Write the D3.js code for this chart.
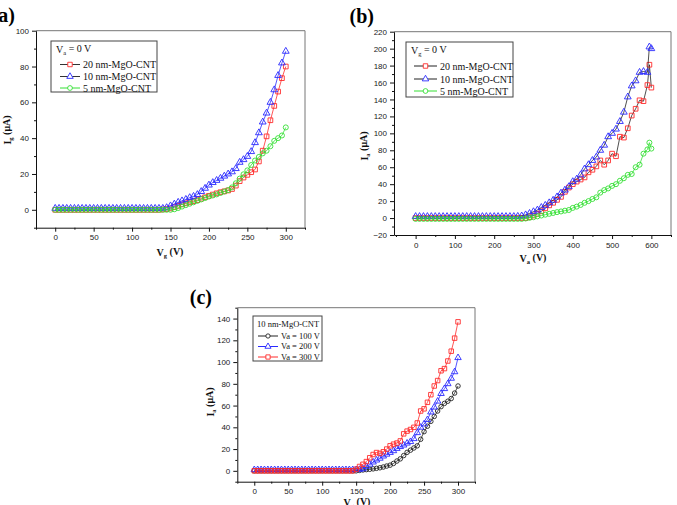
<!DOCTYPE html>
<html><head><meta charset="utf-8">
<script src="https://cdn.jsdelivr.net/npm/d3@7"></script>
<style>body{margin:0;background:#fff}svg{display:block}</style>
</head><body>
<svg id="chart" width="677" height="505"></svg>
<script>
// ---------- DATA ----------
// Panel (a): Ig vs Vg at Va = 0 V
const vgA = [0,5,10,15,20,25,30,35,40,45,50,55,60,65,70,75,80,85,90,95,100,105,110,115,120,125,130,135,140,145,150,155,160,165,170,175,180,185,190,195,200,205,210,215,220,225,230,235,240,245,250,255,260,265,270,275,280,285,290,295,300];
const ig20A = [0,0,0,0,0,0,0,0,0,0,0,0,0,0,0,0,0,0,0,0,0,0,0,0,0,0,0,0,0.2,0.4,
  0.8,1.5,2.2,3.0,3.6,4.2,4.8,5.4,6.2,7.0,
  7.8,8.5,9.2,9.8,10.3,10.8,11.6,13.5,16.0,18.0,
  19.5,21.0,22.5,27.0,33.0,41.0,50.0,58.0,66.0,73.5,80.0];
const ig10A = [0.8,0.8,0.8,0.8,0.8,0.8,0.8,0.8,0.8,0.8,0.8,0.8,0.8,0.8,0.8,0.8,0.8,0.8,0.8,0.8,0.8,0.8,0.8,0.8,0.8,0.8,0.8,0.8,0.8,1.2,
  2.2,3.2,4.2,5.0,5.8,6.8,7.5,8.5,10.2,12.0,
  13.8,15.2,16.4,17.6,18.8,20.0,21.2,23.0,26.5,28.0,
  29.8,32.5,37.5,43.0,49.0,54.0,60.0,67.0,75.0,82.0,88.5];
const ig5A = [0,0,0,0,0,0,0,0,0,0,0,0,0,0,0,0,0,0,0,0,0,0,0,0,0,0,0,0,0,0,
  0,0.3,1.0,1.8,2.6,3.4,4.2,5.0,5.8,6.6,
  7.4,8.0,8.6,9.4,10.2,11.0,12.5,14.8,17.4,19.8,
  22.0,25.0,27.5,29.5,31.5,33.0,35.5,38.5,40.0,41.5,46.0];

// Panel (b): Ia vs Va at Vg = 0 V
const vaB = [0,10,20,30,40,50,60,70,80,90,100,110,120,130,140,150,160,170,180,190,200,210,220,230,240,250,260,270,280,290,300,310,320,330,340,350,360,370,380,390,400,410,420,430,440,450,460,470,480,490,500,510,520,530,540,550,560,570,580,590,595,600];
const ia20B = [0,0,0,0,0,0,0,0,0,0,0,0,0,0,0,0,0,0,0,0,0,0,0,0,0,0,0,0,0,
  1,3,5,8,11.5,15,18,21.5,25,31,
  36,40,43,45.5,48,54,57,61,68,63,
  68,76,73,96,95,106,121,129,139,138,
  157,181,154];
const ia10B = [1.8,1.8,1.8,1.8,1.8,1.8,1.8,1.8,1.8,1.8,1.8,1.8,1.8,1.8,1.8,1.8,1.8,1.8,1.8,1.8,1.8,1.8,1.8,1.8,1.8,1.8,2.0,2.5,3.8,
  5.5,7.5,9.5,12.5,15,18,21,25,29.5,33,
  37,43,46,51,58,63,68,72,80,86,
  96,100,105,114,125,143,156,162,172,173,
  172,202,200];
const ia5B = [-1,-1,-1,-1,-1,-1,-1,-1,-1,-1,-1,-1,-1,-1,-1,-1,-1,-1,-1,-1,-1,-1,-1,-1,-1,-1,-1,-1,-0.5,
  0.3,1.0,2.0,3.0,4.0,5.0,6.0,7.0,7.8,8.7,
  9.5,12,13.5,15.5,18,20,22.5,24.5,30,33,
  35,38,40,44,47,51,52,60,63,76,
  81,89,82];

// Panel (c): Ia vs Vg for 10 nm-MgO-CNT
const vgC = [0,5,10,15,20,25,30,35,40,45,50,55,60,65,70,75,80,85,90,95,100,105,110,115,120,125,130,135,140,145,150,155,160,165,170,175,180,185,190,195,200,205,210,215,220,225,230,235,240,245,250,255,260,265,270,275,280,285,290,295,300];
const ia100C = [0,0,0,0,0,0,0,0,0,0,0,0,0,0,0,0,0,0,0,0,0,0,0,0,0,0,0,0,0,0,0,
  0.4,0.8,1.1,1.4,1.8,2.3,2.8,3.5,4.4,5.2,
  6.8,9.0,11.0,14.0,17.0,19.0,21.0,23.0,29.0,36.0,
  41.0,45.5,50.0,55.0,59.0,62.0,64.0,66.5,71.5,78.0];
const ia200C = [1,1,1,1,1,1,1,1,1,1,1,1,1,1,1,1,1,1,1,1,1,1,1,1,1,1,1,1,1,1,1,
  1.2,1.8,4.0,6.0,8.0,9.8,11.5,13.5,15.2,16.8,
  18.4,20.5,22.2,23.6,25.4,26.8,29.5,35.0,40.0,43.0,
  47.0,54.0,58.5,64.0,71.0,75.5,80.0,85.0,91.0,104.0];
const ia300C = [0,0,0,0,0,0,0,0,0,0,0,0,0,0,0,0,0,0,0,0,0,0,0,0,0,0,0,0,0,0,
  1.5,4.0,6.0,8.5,12.0,15.0,16.8,16.0,17.5,20.0,
  23.0,24.5,25.5,27.5,34.0,36.5,38.0,40.0,44.0,55.0,
  57.0,63.0,70.0,78.0,83.0,92.0,94.0,101.0,110.0,122.0,137.0];

// Tick values
const xTicksA = [0,50,100,150,200,250,300];
const yTicksA = [0,20,40,60,80,100];
const xTicksB = [0,100,200,300,400,500,600];
const yTicksB = [-20,0,20,40,60,80,100,120,140,160,180,200,220];
const xTicksC = [0,50,100,150,200,250,300];
const yTicksC = [0,20,40,60,80,100,120,140];

// Legend labels
const legendA = ["20 nm-MgO-CNT","10 nm-MgO-CNT","5 nm-MgO-CNT"];
const legendB = ["20 nm-MgO-CNT","10 nm-MgO-CNT","5 nm-MgO-CNT"];
const legendC = ["Va = 100 V","Va = 200 V","Va = 300 V"];

// ---------- DRAWING ----------
const RED = "#ff2b2b", BLUE = "#2a2aff", GREEN = "#35e035", BLACK = "#222";
const svg = d3.select("#chart");
const SANS = "'Liberation Sans', Arial, sans-serif";
const SERIF = "'Liberation Serif', 'Times New Roman', serif";

function sub(textSel, main, subs, rest) {
  textSel.append("tspan").text(main);
  textSel.append("tspan").attr("font-size","0.65em").attr("dy","0.3em").text(subs);
  textSel.append("tspan").attr("dy","-0.3em").text(rest);
}

function panel(cfg) {
  const x = d3.scaleLinear().domain(cfg.xDomain).range(cfg.xRange);
  const y = d3.scaleLinear().domain(cfg.yDomain).range(cfg.yRange);
  const g = svg.append("g");
  const [x0, x1] = cfg.xRange, [yb, yt] = cfg.yRange;

  g.append("path").attr("d", `M${x0},${yt}H${x1}V${yb}`).attr("fill","none")
    .attr("stroke","#777").attr("stroke-width",1);

  g.append("g").attr("transform",`translate(0,${yb})`)
    .call(d3.axisBottom(x).tickValues(cfg.xMinor).tickSize(2).tickFormat("").tickSizeOuter(0))
    .call(s => s.select(".domain").remove());
  g.append("g").attr("transform",`translate(${x0},0)`)
    .call(d3.axisLeft(y).tickValues(cfg.yMinor).tickSize(2).tickFormat("").tickSizeOuter(0))
    .call(s => s.select(".domain").remove());

  const xa = g.append("g").attr("transform",`translate(0,${yb})`)
    .call(d3.axisBottom(x).tickValues(cfg.xTicks).tickSize(4).tickSizeOuter(0).tickPadding(3));
  const ya = g.append("g").attr("transform",`translate(${x0},0)`)
    .call(d3.axisLeft(y).tickValues(cfg.yTicks).tickSize(4).tickSizeOuter(0).tickPadding(3));
  [xa, ya].forEach(a => {
    a.selectAll("text").attr("font-family", SANS).attr("font-size", 8).attr("fill","#222");
    a.selectAll("line,path").attr("stroke","#111");
  });
  g.selectAll(".tick line").attr("stroke","#111");

  const sym = {square: d3.symbolSquare, triangle: d3.symbolTriangle, circle: d3.symbolCircle};
  cfg.series.forEach(s => {
    const pts = s.xs.map((v,i) => [x(v), y(s.ys[i])]);
    g.append("path").attr("d", d3.line()(pts)).attr("fill","none")
      .attr("stroke", s.plotLine || s.line).attr("stroke-width", 0.8);
    g.append("g").selectAll("path").data(pts).join("path")
      .attr("transform", d => `translate(${d[0]},${d[1]})`)
      .attr("d", d3.symbol().type(sym[s.shape]).size(s.size))
      .attr("fill","none").attr("stroke", s.color).attr("stroke-width", 0.9);
  });

  const yl = g.append("text").attr("transform",`translate(${cfg.yLabelPos[0]},${cfg.yLabelPos[1]}) rotate(-90)`)
    .attr("text-anchor","middle").attr("font-family",SERIF).attr("font-weight","bold").attr("font-size",10).attr("fill","#111");
  sub(yl, cfg.yLabel[0], cfg.yLabel[1], cfg.yLabel[2]);
  const xl = g.append("text").attr("x",cfg.xLabelPos[0]).attr("y",cfg.xLabelPos[1])
    .attr("text-anchor","middle").attr("font-family",SERIF).attr("font-weight","bold").attr("font-size",10).attr("fill","#111");
  sub(xl, cfg.xLabel[0], cfg.xLabel[1], cfg.xLabel[2]);

  g.append("text").attr("x",cfg.tag[1]).attr("y",cfg.tag[2]).attr("text-anchor","end")
    .attr("font-family",SERIF).attr("font-weight","bold").attr("font-size",20).attr("fill","#000").text(cfg.tag[0]);

  const L = cfg.legend;
  g.append("rect").attr("x",L.box[0]).attr("y",L.box[1]).attr("width",L.box[2]).attr("height",L.box[3])
    .attr("fill","#fff").attr("stroke","#444").attr("stroke-width",1);
  const tt = g.append("text").attr("x",L.titleX).attr("y",L.titleY).attr("font-family",SERIF)
    .attr("font-size",L.fs).attr("fill","#111");
  if (L.title.length === 3) sub(tt, L.title[0], L.title[1], L.title[2]); else tt.text(L.title[0]);
  cfg.series.forEach((s,i) => {
    const cy = L.rowY[i];
    g.append("line").attr("x1",L.lx[0]).attr("x2",L.lx[1]).attr("y1",cy).attr("y2",cy)
      .attr("stroke", s.line).attr("stroke-width",1);
    g.append("path").attr("transform",`translate(${(L.lx[0]+L.lx[1])/2},${cy})`)
      .attr("d", d3.symbol().type(sym[s.shape]).size(s.size*0.9))
      .attr("fill","#fff").attr("stroke", s.color).attr("stroke-width",0.9);
    g.append("text").attr("x",L.tx).attr("y",cy).attr("dy","0.35em").attr("font-family",SERIF)
      .attr("font-size",L.fs).attr("fill","#111").text(L.labels[i]);
  });
}

panel({
  xDomain:[-25,325], xRange:[36,305], yDomain:[-10,100], yRange:[227.7,30.7],
  xTicks:xTicksA, xMinor:[-25,25,75,125,175,225,275,325], yTicks:yTicksA, yMinor:[-10,10,30,50,70,90],
  xLabel:["V","g"," (V)"], xLabelPos:[170,256], yLabel:["I","g"," (\u03bcA)"], yLabelPos:[11,130],
  tag:["(a)",15,22],
  series:[
    {xs:vgA, ys:ig20A, color:RED, line:"#333", plotLine:RED, shape:"square", size:22},
    {xs:vgA, ys:ig10A, color:BLUE, line:"#333", plotLine:BLUE, shape:"triangle", size:20},
    {xs:vgA, ys:ig5A, color:GREEN, line:GREEN, shape:"circle", size:20}
  ],
  legend:{box:[51,41,106,51], title:["V","a"," = 0 V"], titleX:56, titleY:53, fs:10,
    rowY:[64.5,76.5,88], lx:[60,80], tx:83, labels:legendA}
});

panel({
  xDomain:[-55,650], xRange:[394,671], yDomain:[-20,220], yRange:[235,31.7],
  xTicks:xTicksB, xMinor:[-50,50,150,250,350,450,550,650], yTicks:yTicksB, yMinor:[-10,10,30,50,70,90,110,130,150,170,190,210],
  xLabel:["V","a"," (V)"], xLabelPos:[533,262], yLabel:["I","a"," (\u03bcA)"], yLabelPos:[368,146],
  tag:["(b)",374,23],
  series:[
    {xs:vaB, ys:ia20B, color:RED, line:"#222", shape:"square", size:22},
    {xs:vaB, ys:ia10B, color:BLUE, line:"#222", shape:"triangle", size:20},
    {xs:vaB, ys:ia5B, color:GREEN, line:GREEN, shape:"circle", size:20}
  ],
  legend:{box:[406,42,107,55], title:["V","g"," = 0 V"], titleX:411, titleY:54, fs:10,
    rowY:[66,79,91], lx:[414,437], tx:440, labels:legendB}
});

panel({
  xDomain:[-25,325], xRange:[237.3,475], yDomain:[-10,150], yRange:[481.7,307.7],
  xTicks:xTicksC, xMinor:[-25,25,75,125,175,225,275,325], yTicks:yTicksC, yMinor:[-10,10,30,50,70,90,110,130,150],
  xLabel:["V","g"," (V)"], xLabelPos:[357,506], yLabel:["I","a"," (\u03bcA)"], yLabelPos:[214,402],
  tag:["(c)",212,304],
  series:[
    {xs:vgC, ys:ia100C, color:BLACK, line:BLACK, shape:"circle", size:16},
    {xs:vgC, ys:ia200C, color:BLUE, line:BLUE, shape:"triangle", size:18},
    {xs:vgC, ys:ia300C, color:RED, line:RED, shape:"square", size:20}
  ],
  legend:{box:[253,316,69,45], title:["10 nm-MgO-CNT"], titleX:257, titleY:327, fs:8.5,
    rowY:[336,346.5,357], lx:[258,278], tx:281, labels:legendC}
});
</script>
</body></html>
